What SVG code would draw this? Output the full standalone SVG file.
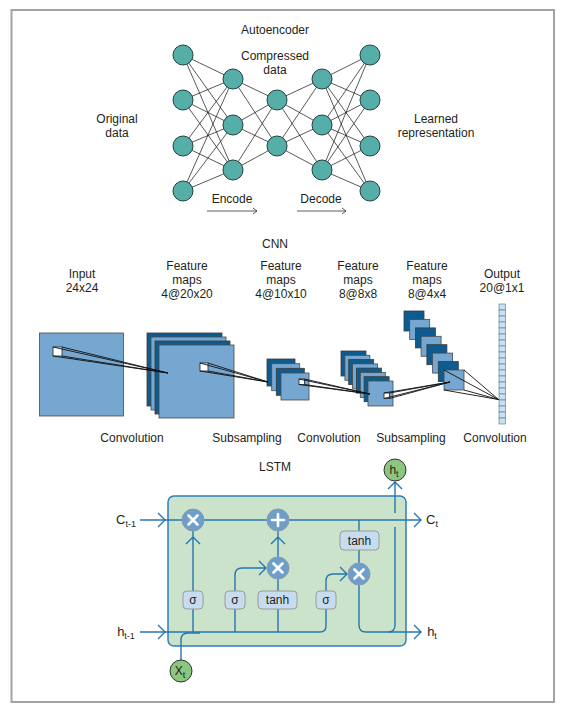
<svg xmlns="http://www.w3.org/2000/svg" width="564" height="710" viewBox="0 0 564 710">
<style>
text{font-family:'Liberation Sans',Arial,sans-serif;font-size:12px;fill:#231f20;text-anchor:middle}
.neu{fill:#56aea8;stroke:#23403f;stroke-width:1}
.edge{stroke:#111;stroke-width:0.7;fill:none}
.dk{fill:#0d5b8f;stroke:#3b3b3b;stroke-width:0.8}
.lt{fill:#76a7d0;stroke:#4a4a4a;stroke-width:0.8}
.wsq{fill:#fff;stroke:#222;stroke-width:0.8}
.proj{stroke:#111;stroke-width:0.9;fill:none}
.cell{fill:#c9e1f1;stroke:#4f7590;stroke-width:0.6}
.wire{stroke:#2677b0;stroke-width:1.4;fill:none}
.op{fill:#6e9fcb;stroke:#8c9aa6;stroke-width:1}
.sym{stroke:#fff;stroke-width:2.6;stroke-linecap:round}
.gate{fill:#c7ddef;stroke:#9a9a9a;stroke-width:1}
.io{fill:#8dc67e;stroke:#333;stroke-width:1}
.arr{stroke:#333;stroke-width:0.8;fill:none}
.big{font-size:13px}
.sub{font-size:9px}
</style>
<rect x="11.5" y="10" width="542.5" height="692" fill="#fff" stroke="#a3a3a3" stroke-width="2"/>

<!-- labels -->
<g id="labels">
<text x="275" y="34">Autoencoder</text>
<text x="275" y="60">Compressed</text>
<text x="275" y="74">data</text>
<text x="117" y="123">Original</text>
<text x="117" y="137">data</text>
<text x="436" y="123">Learned</text>
<text x="436" y="137">representation</text>
<text x="232" y="203">Encode</text>
<text x="321" y="203">Decode</text>
<text x="275" y="248">CNN</text>
<text x="82" y="278">Input</text>
<text x="82" y="292">24x24</text>
<text x="187" y="270">Feature</text>
<text x="187" y="284">maps</text>
<text x="187" y="298">4@20x20</text>
<text x="281" y="270">Feature</text>
<text x="281" y="284">maps</text>
<text x="281" y="298">4@10x10</text>
<text x="358" y="270">Feature</text>
<text x="358" y="284">maps</text>
<text x="358" y="298">8@8x8</text>
<text x="427" y="270">Feature</text>
<text x="427" y="284">maps</text>
<text x="427" y="298">8@4x4</text>
<text x="502" y="278">Output</text>
<text x="502" y="292">20@1x1</text>
<text x="132" y="442">Convolution</text>
<text x="247" y="442">Subsampling</text>
<text x="329" y="442">Convolution</text>
<text x="411" y="442">Subsampling</text>
<text x="495" y="442">Convolution</text>
<text x="275" y="471">LSTM</text>
<text class="big" x="126" y="524">C<tspan class="sub" dy="3">t-1</tspan></text>
<text class="big" x="126" y="636">h<tspan class="sub" dy="3">t-1</tspan></text>
<text class="big" x="432" y="524">C<tspan class="sub" dy="3">t</tspan></text>
<text class="big" x="432" y="636">h<tspan class="sub" dy="3">t</tspan></text>
</g>

<!-- CNN nodes -->
<g id="cnn-input">
<rect class="lt" x="39.5" y="333" width="84" height="83"/>
<rect class="wsq" x="53" y="347" width="9" height="9"/>
</g>
<g id="cnn-fm1">
<rect class="dk" x="147" y="333" width="75" height="73"/>
<rect class="lt" x="151" y="337" width="75" height="73"/>
<rect class="dk" x="155" y="341" width="75" height="73"/>
<rect class="lt" x="159" y="345" width="75" height="73"/>
<rect class="wsq" x="200" y="363" width="8" height="8"/>
</g>
<g id="cnn-fm2">
<rect class="dk" x="267" y="359" width="28" height="27"/>
<rect class="lt" x="271.7" y="363.7" width="28" height="27"/>
<rect class="dk" x="276.3" y="368.3" width="28" height="27"/>
<rect class="lt" x="281" y="373" width="28" height="27"/>
<rect class="wsq" x="299" y="379" width="5.5" height="5.5"/>
</g>
<g id="cnn-fm3">
<rect class="dk" x="341" y="351" width="25" height="25"/>
<rect class="lt" x="344.9" y="355.3" width="25" height="25"/>
<rect class="dk" x="348.7" y="359.6" width="25" height="25"/>
<rect class="lt" x="352.6" y="363.9" width="25" height="25"/>
<rect class="dk" x="356.4" y="368.1" width="25" height="25"/>
<rect class="lt" x="360.3" y="372.4" width="25" height="25"/>
<rect class="dk" x="364.1" y="376.7" width="25" height="25"/>
<rect class="lt" x="368" y="381" width="25" height="25"/>
<rect class="wsq" x="384" y="393" width="5.5" height="5.5"/>
</g>
<g id="cnn-fm4">
<rect class="dk" x="404" y="311" width="20" height="20"/>
<rect class="lt" x="409.7" y="319.4" width="20" height="20"/>
<rect class="dk" x="415.4" y="327.9" width="20" height="20"/>
<rect class="lt" x="421.1" y="336.3" width="20" height="20"/>
<rect class="dk" x="426.9" y="344.7" width="20" height="20"/>
<rect class="lt" x="432.6" y="353.1" width="20" height="20"/>
<rect class="dk" x="438.3" y="361.6" width="20" height="20"/>
<rect class="lt" x="444" y="370" width="20" height="20"/>
</g>
<g id="cnn-output">
<rect class="cell" x="499" y="304" width="6.5" height="6"/>
<rect class="cell" x="499" y="310" width="6.5" height="6"/>
<rect class="cell" x="499" y="316" width="6.5" height="6"/>
<rect class="cell" x="499" y="322" width="6.5" height="6"/>
<rect class="cell" x="499" y="328" width="6.5" height="6"/>
<rect class="cell" x="499" y="334" width="6.5" height="6"/>
<rect class="cell" x="499" y="340" width="6.5" height="6"/>
<rect class="cell" x="499" y="346" width="6.5" height="6"/>
<rect class="cell" x="499" y="352" width="6.5" height="6"/>
<rect class="cell" x="499" y="358" width="6.5" height="6"/>
<rect class="cell" x="499" y="364" width="6.5" height="6"/>
<rect class="cell" x="499" y="370" width="6.5" height="6"/>
<rect class="cell" x="499" y="376" width="6.5" height="6"/>
<rect class="cell" x="499" y="382" width="6.5" height="6"/>
<rect class="cell" x="499" y="388" width="6.5" height="6"/>
<rect class="cell" x="499" y="394" width="6.5" height="6"/>
<rect class="cell" x="499" y="400" width="6.5" height="6"/>
<rect class="cell" x="499" y="406" width="6.5" height="6"/>
<rect class="cell" x="499" y="412" width="6.5" height="6"/>
<rect class="cell" x="499" y="418" width="6.5" height="6"/>
</g>

<g id="lstm-cell">
<rect x="168" y="496" width="238" height="150" rx="6" fill="#cbe3cb" stroke="#2f80b7" stroke-width="1.5"/>
</g>

<!-- connectors -->
<g id="connectors">
<g id="ae-edges" class="edge">
<path d="M183,55L233,79M183,55L233,125M183,55L233,170M183,100L233,79M183,100L233,125M183,100L233,170M183,146L233,79M183,146L233,125M183,146L233,170M183,191L233,79M183,191L233,125M183,191L233,170"/>
<path d="M233,79L277,100M233,79L277,146M233,125L277,100M233,125L277,146M233,170L277,100M233,170L277,146"/>
<path d="M277,100L322,79M277,100L322,125M277,100L322,170M277,146L322,79M277,146L322,125M277,146L322,170"/>
<path d="M322,79L370,55M322,79L370,100M322,79L370,146M322,79L370,191M322,125L370,55M322,125L370,100M322,125L370,146M322,125L370,191M322,170L370,55M322,170L370,100M322,170L370,146M322,170L370,191"/>
</g>
<path class="arr" d="M207,211H257M253,208L257,211L253,214"/>
<path class="arr" d="M297,211H346M342,208L346,211L342,214"/>
<g class="proj">
<path d="M53,347L168,373M62,347L168,373M53,356L168,373M62,356L168,373"/>
<path d="M200,363L268,382M208,363L268,382M200,371L268,382M208,371L268,382"/>
<path d="M299,379L370,394M304.5,379L370,394M299,384.5L370,394M304.5,384.5L370,394"/>
<path d="M384,393L450,382M389.5,393L450,382M384,398.5L450,382M389.5,398.5L450,382"/>
<path d="M444,370L498.5,399.5M464,370L498.5,399.5M444,390L498.5,399.5M464,390L498.5,399.5"/>
</g>
<g class="wire">
<path d="M140,520H421"/>
<path d="M158,513L165,520L158,527M414,513L421,520L414,527"/>
<path d="M140,632H320Q326,632 326,626V609"/>
<path d="M158,625L165,632L158,639"/>
<path d="M181,660V640Q181,633 188,633H200"/>
<path d="M193,632V609M193,591V531M186,544L193,537L200,544"/>
<path d="M235,632V609M235,591V575Q235,568 242,568H266M259,561L266,568L259,575"/>
<path d="M278,632V609M278,591V579M278,557V531M271,544L278,537L285,544"/>
<path d="M326,591V581Q326,574 333,574H347M340,567L347,574L340,581"/>
<path d="M359,563V550M359,531V520"/>
<path d="M359,585V625Q359,632 366,632H421M414,625L421,632L414,639"/>
<path d="M388,632Q395,632 395,625V527M395,513V482M388,489L395,482L402,489"/>
</g>
</g>

<!-- autoencoder neurons -->
<g id="ae-in">
<circle class="neu" cx="183" cy="55" r="10"/>
<circle class="neu" cx="183" cy="100" r="10"/>
<circle class="neu" cx="183" cy="146" r="10"/>
<circle class="neu" cx="183" cy="191" r="10"/>
</g>
<g id="ae-enc">
<circle class="neu" cx="233" cy="79" r="10"/>
<circle class="neu" cx="233" cy="125" r="10"/>
<circle class="neu" cx="233" cy="170" r="10"/>
</g>
<g id="ae-code">
<circle class="neu" cx="277" cy="100" r="10"/>
<circle class="neu" cx="277" cy="146" r="10"/>
</g>
<g id="ae-dec">
<circle class="neu" cx="322" cy="79" r="10"/>
<circle class="neu" cx="322" cy="125" r="10"/>
<circle class="neu" cx="322" cy="170" r="10"/>
</g>
<g id="ae-out">
<circle class="neu" cx="370" cy="55" r="10"/>
<circle class="neu" cx="370" cy="100" r="10"/>
<circle class="neu" cx="370" cy="146" r="10"/>
<circle class="neu" cx="370" cy="191" r="10"/>
</g>

<!-- LSTM nodes -->
<g id="lstm-forget-mul"><circle class="op" cx="193" cy="520" r="11"/><path class="sym" d="M188.5,515.5L197.5,524.5M197.5,515.5L188.5,524.5"/></g>
<g id="lstm-add"><circle class="op" cx="278" cy="520" r="11"/><path class="sym" d="M272,520H284M278,514V526"/></g>
<g id="lstm-input-mul"><circle class="op" cx="278" cy="568" r="11"/><path class="sym" d="M273.5,563.5L282.5,572.5M282.5,563.5L273.5,572.5"/></g>
<g id="lstm-output-mul"><circle class="op" cx="359" cy="574" r="11"/><path class="sym" d="M354.5,569.5L363.5,578.5M363.5,569.5L354.5,578.5"/></g>
<g id="lstm-sigma1"><rect class="gate" x="183" y="591" width="20" height="18" rx="4"/><text x="193" y="604">σ</text></g>
<g id="lstm-sigma2"><rect class="gate" x="225" y="591" width="20" height="18" rx="4"/><text x="235" y="604">σ</text></g>
<g id="lstm-tanh1"><rect class="gate" x="258" y="591" width="39" height="18" rx="4"/><text x="277.5" y="604">tanh</text></g>
<g id="lstm-sigma3"><rect class="gate" x="316" y="591" width="20" height="18" rx="4"/><text x="326" y="604">σ</text></g>
<g id="lstm-tanh2"><rect class="gate" x="340" y="531" width="39" height="19" rx="4"/><text x="359.5" y="545">tanh</text></g>
<g id="lstm-ht"><circle class="io" cx="395" cy="470" r="11"/><text x="394" y="474">h<tspan class="sub" dy="3">t</tspan></text></g>
<g id="lstm-xt"><circle class="io" cx="181" cy="671" r="11"/><text x="180" y="675">X<tspan class="sub" dy="3">t</tspan></text></g>
</svg>
